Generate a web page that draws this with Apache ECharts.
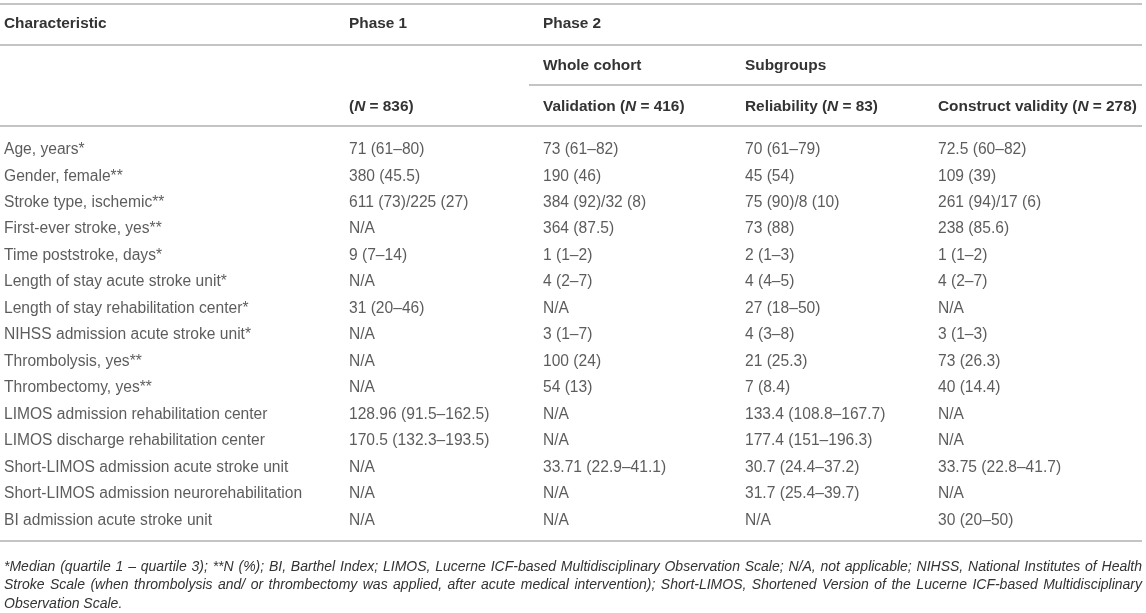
<!DOCTYPE html>
<html>
<head>
<meta charset="utf-8">
<script src="https://cdn.jsdelivr.net/npm/echarts@6/dist/echarts.min.js"></script>
<style>
html,body{margin:0;padding:0;background:#fff;}
#chart{width:1146px;height:613px;}
</style>
</head>
<body>
<div id="chart"></div>
<script>
// ---------- DATA ----------
const characteristics = [
  'Age, years*',
  'Gender, female**',
  'Stroke type, ischemic**',
  'First-ever stroke, yes**',
  'Time poststroke, days*',
  'Length of stay acute stroke unit*',
  'Length of stay rehabilitation center*',
  'NIHSS admission acute stroke unit*',
  'Thrombolysis, yes**',
  'Thrombectomy, yes**',
  'LIMOS admission rehabilitation center',
  'LIMOS discharge rehabilitation center',
  'Short-LIMOS admission acute stroke unit',
  'Short-LIMOS admission neurorehabilitation',
  'BI admission acute stroke unit'
];
const phase1 = [
  '71 (61–80)', '380 (45.5)', '611 (73)/225 (27)', 'N/A', '9 (7–14)', 'N/A', '31 (20–46)',
  'N/A', 'N/A', 'N/A', '128.96 (91.5–162.5)', '170.5 (132.3–193.5)', 'N/A', 'N/A', 'N/A'
];
const validation = [
  '73 (61–82)', '190 (46)', '384 (92)/32 (8)', '364 (87.5)', '1 (1–2)', '4 (2–7)', 'N/A',
  '3 (1–7)', '100 (24)', '54 (13)', 'N/A', 'N/A', '33.71 (22.9–41.1)', 'N/A', 'N/A'
];
const reliability = [
  '70 (61–79)', '45 (54)', '75 (90)/8 (10)', '73 (88)', '2 (1–3)', '4 (4–5)', '27 (18–50)',
  '4 (3–8)', '21 (25.3)', '7 (8.4)', '133.4 (108.8–167.7)', '177.4 (151–196.3)', '30.7 (24.4–37.2)', '31.7 (25.4–39.7)', 'N/A'
];
const constructValidity = [
  '72.5 (60–82)', '109 (39)', '261 (94)/17 (6)', '238 (85.6)', '1 (1–2)', '4 (2–7)', 'N/A',
  '3 (1–3)', '73 (26.3)', '40 (14.4)', 'N/A', 'N/A', '33.75 (22.8–41.7)', 'N/A', '30 (20–50)'
];
const headerRow1 = ['Characteristic', 'Phase 1', 'Phase 2'];
const headerRow2 = ['Whole cohort', 'Subgroups'];
const headerRow3 = [['', '836'], ['Validation', '416'], ['Reliability', '83'], ['Construct validity', '278']];
const footnoteLines = [
  '*Median (quartile 1 – quartile 3); **N (%); BI, Barthel Index; LIMOS, Lucerne ICF-based Multidisciplinary Observation Scale; N/A, not applicable; NIHSS, National Institutes of Health',
  'Stroke Scale (when thrombolysis and/ or thrombectomy was applied, after acute medical intervention); Short-LIMOS, Shortened Version of the Lucerne ICF-based Multidisciplinary',
  'Observation Scale.'
];

// ---------- LAYOUT / STYLE ----------
const FONT = '"Liberation Sans", Arial, Helvetica, sans-serif';
const TEXT_COLOR = '#333';
const LINE_COLOR = '#b0b0b0';
const colX = [4, 349, 543, 745, 938];
const bodySize = 15.6;
const headSize = 15.4;

const chart = echarts.init(document.getElementById('chart'));

function colSeries(values, x) {
  return {
    type: 'scatter',
    symbolSize: 0,
    silent: true,
    data: values.map((v, i) => ({ value: [x, i], name: v })),
    label: {
      show: true,
      position: 'right',
      distance: 0,
      formatter: p => p.name,
      color: TEXT_COLOR,
      fontFamily: FONT,
      fontSize: bodySize
    }
  };
}

const graphics = [];
function hline(y, x1, x2) {
  graphics.push({ type: 'line', silent: true,
    shape: { x1: x1, y1: y, x2: x2, y2: y },
    style: { stroke: LINE_COLOR, lineWidth: 1.6 } });
}
hline(4, 0, 1142);
hline(45, 0, 1142);
hline(85, 529, 1142);
hline(126, 0, 1142);
hline(541, 0, 1142);

const richHead = {
  b: { fontFamily: FONT, fontSize: headSize, fontWeight: 'bold', fill: TEXT_COLOR, color: TEXT_COLOR },
  i: { fontFamily: FONT, fontSize: headSize, fontWeight: 'bold', fontStyle: 'italic', fill: TEXT_COLOR, color: TEXT_COLOR }
};
function headText(text, x, y) {
  graphics.push({ type: 'text', silent: true, x: x, y: y,
    style: { text: text, fill: TEXT_COLOR, font: 'bold ' + headSize + 'px ' + FONT,
      verticalAlign: 'middle', align: 'left', rich: richHead } });
}
headerRow1.forEach((t, k) => headText('{b|' + t + '}', colX[k], 24));
headerRow2.forEach((t, k) => headText('{b|' + t + '}', colX[k + 2], 66));
headerRow3.forEach((h, k) => {
  const pre = h[0] ? h[0] + ' (' : '(';
  headText('{b|' + pre + '}{i|N}{b| = ' + h[1] + ')}', colX[k + 1], 107);
});

// footnote (justified lines)
const fnFont = 'italic 14px ' + FONT;
const ctx = document.createElement('canvas').getContext('2d');
ctx.font = fnFont;
const fnLeft = 4, fnRight = 1142, fnY0 = 567, fnDy = 18.5;
footnoteLines.forEach((line, li) => {
  const y = fnY0 + li * fnDy;
  if (li === footnoteLines.length - 1) {
    graphics.push({ type: 'text', silent: true, x: fnLeft, y: y,
      style: { text: line, font: fnFont, fill: TEXT_COLOR, verticalAlign: 'middle' } });
    return;
  }
  const words = line.split(' ');
  const widths = words.map(w => ctx.measureText(w).width);
  const total = widths.reduce((a, b) => a + b, 0);
  const gap = (fnRight - fnLeft - total) / (words.length - 1);
  let x = fnLeft;
  words.forEach((w, k) => {
    graphics.push({ type: 'text', silent: true, x: x, y: y,
      style: { text: w, font: fnFont, fill: TEXT_COLOR, verticalAlign: 'middle' } });
    x += widths[k] + gap;
  });
});

const option = {
  animation: false,
  backgroundColor: '#fff',
  grid: { left: 0, right: 0, top: 136.5, bottom: 79.5, containLabel: false },
  xAxis: { type: 'value', min: 0, max: 1146, show: false },
  yAxis: { type: 'category', data: characteristics, inverse: true, show: false },
  series: [
    colSeries(characteristics, colX[0]),
    colSeries(phase1, colX[1]),
    colSeries(validation, colX[2]),
    colSeries(reliability, colX[3]),
    colSeries(constructValidity, colX[4])
  ],
  graphic: graphics
};
chart.setOption(option);
</script>
</body>
</html>
